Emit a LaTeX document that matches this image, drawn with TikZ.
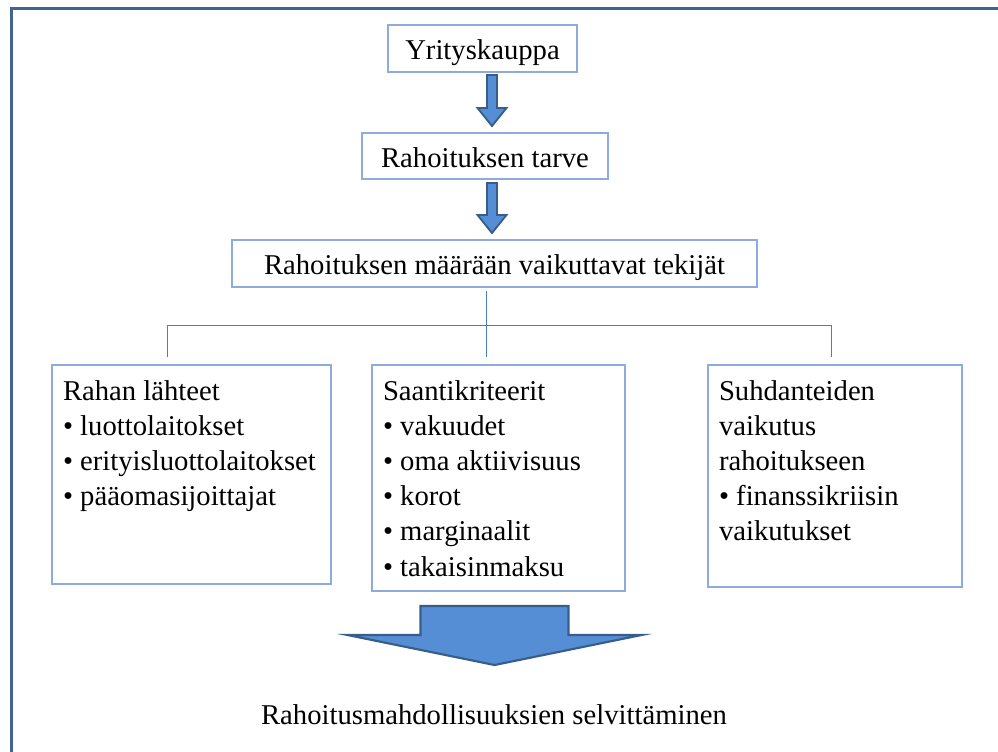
\documentclass[tikz,border=0pt]{standalone}
\usepackage{fontspec}
\setmainfont{Liberation Serif}
\definecolor{framec}{RGB}{64,100,148}
\definecolor{boxc}{RGB}{143,170,220}
\definecolor{connc}{RGB}{74,126,187}
\definecolor{arrowfill}{RGB}{85,142,213}
\definecolor{arrowline}{RGB}{56,93,138}
\newcommand\txtfont{\fontsize{21.5pt}{26.4pt}\selectfont}
\tikzset{
  frameline/.style={draw=framec, line width=2.25pt},
  box/.style={draw=boxc, line width=0.9pt, rectangle, anchor=north west,
              inner sep=0pt, outer sep=0pt},
  titlebox/.style={box, font=\txtfont, text height=19.5pt, text depth=3pt},
  listtext/.style={anchor=base west, inner sep=0pt, outer sep=0pt},
  conn/.style={draw=connc, line width=0.75pt},
  blockarrow/.style={fill=arrowfill, draw=arrowline, line width=1.4pt, line join=miter},
}
\begin{document}
\begin{tikzpicture}[x=0.75pt, y=-0.75pt]
\useasboundingbox (0,0) rectangle (998,751);

% outer page frame (runs off the right and bottom edges)
\begin{scope}
  \clip (0,0) rectangle (998,751);
  \draw[frameline] (11.5,780) -- (11.5,8.5) -- (1020,8.5);
\end{scope}

% title boxes
\node[titlebox, minimum width=141.75pt, minimum height=35.25pt] (yk) at (388,25) {Yrityskauppa};
\node[titlebox, minimum width=184.5pt, minimum height=34.5pt] (tarve) at (362,133) {Rahoituksen tarve};
\node[titlebox, minimum width=393.75pt, minimum height=35.25pt] (tek) at (232,240) {Rahoituksen määrään vaikuttavat tekijät};

% block arrows between the title boxes
\coordinate (a1) at (492,75);
\coordinate (a2) at (492,183);
\filldraw[blockarrow, shift={(a1)}] (-5,0) -- (5,0) -- (5,33) -- (14.5,33) -- (0,51) -- (-14.5,33) -- (-5,33) -- cycle;
\filldraw[blockarrow, shift={(a2)}] (-5,0) -- (5,0) -- (5,32) -- (14.5,32) -- (0,50) -- (-14.5,32) -- (-5,32) -- cycle;

% three factor boxes
\node[box, minimum width=209.25pt, minimum height=164.25pt] (lahteet) at (52,365) {};
\node[box, minimum width=189.75pt, minimum height=169.5pt] (kriteerit) at (372,365) {};
\node[box, minimum width=190.5pt, minimum height=166.5pt] (suhdanteet) at (708,365) {};

\node[listtext] (lahteetTxt) at (63,400) {\parbox[t]{260pt}{\txtfont\raggedright
  Rahan lähteet\\
  • luottolaitokset\\
  • erityisluottolaitokset\\
  • pääomasijoittajat}};
\node[listtext] (kriteeritTxt) at (383,400) {\parbox[t]{260pt}{\txtfont\raggedright
  Saantikriteerit\\
  • vakuudet\\
  • oma aktiivisuus\\
  • korot\\
  • marginaalit\\
  • takaisinmaksu}};
\node[listtext] (suhdanteetTxt) at (719,400) {\parbox[t]{260pt}{\txtfont\raggedright
  Suhdanteiden\\
  vaikutus\\
  rahoitukseen\\
  • finanssikriisin\\
  vaikutukset}};

% tree connectors
\coordinate (c0) at (486,291);
\coordinate (jl) at (167,325);
\coordinate (jr) at (831,325);
\coordinate (dl) at (167,357);
\coordinate (dm) at (486,357);
\coordinate (dr) at (831,357);
\draw[conn] (c0) -- (dm);
\draw[conn] (dl) -- (jl) -- (jr) -- (dr);

% large result arrow
\coordinate (a3) at (494.5,606);
\filldraw[blockarrow, line width=1.6pt, shift={(a3)}] (-74,0) -- (74,0) -- (74,29) -- (147,29) -- (0,59) -- (-147,29) -- (-74,29) -- cycle;

\node[anchor=base, inner sep=0pt, font=\txtfont] (tulos) at (494,724) {Rahoitusmahdollisuuksien selvittäminen};
\end{tikzpicture}
\end{document}
